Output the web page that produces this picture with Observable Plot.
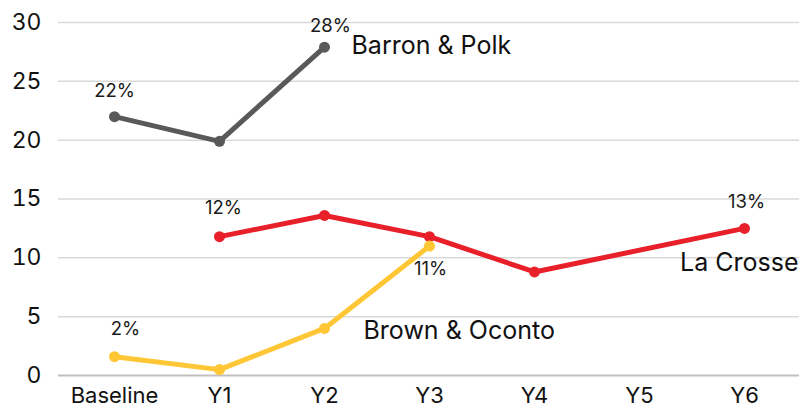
<!DOCTYPE html>
<html>
<head>
<meta charset="utf-8">
<script src="https://cdn.jsdelivr.net/npm/d3@7"></script>
<script src="https://cdn.jsdelivr.net/npm/@observablehq/plot@0.6"></script>
<style>
  html, body { margin: 0; padding: 0; background: #fff; }
  #chart { width: 804px; height: 409px; }
  svg { font-family: Inter, "Open Sans", sans-serif; }
</style>
</head>
<body>
<div id="chart"></div>
<script>
const categories = ["Baseline", "Y1", "Y2", "Y3", "Y4", "Y5", "Y6"];
const yTicks = [0, 5, 10, 15, 20, 25, 30];

const barronValues = [22.0, 19.9, 27.9, null, null, null, null];
const laCrosseValues = [null, 11.8, 13.6, 11.8, 8.8, null, 12.5];
const brownValues = [1.6, 0.5, 4.0, 11.0, null, null, null];

const barronLabels = ["22%", null, "28%", null, null, null, null];
const laCrosseLabels = [null, "12%", null, null, null, null, "13%"];
const brownLabels = ["2%", null, null, "11%", null, null, null];

const seriesNames = ["Barron & Polk", "La Crosse", "Brown & Oconto"];
const colors = ["#595959", "#E8202A", "#FFC735"];

function rows(name, values, labels) {
  return categories.map((c, i) => ({series: name, cat: c, value: values[i], label: labels[i]}))
    .filter(d => d.value != null);
}
const barron = rows(seriesNames[0], barronValues, barronLabels);
const laCrosse = rows(seriesNames[1], laCrosseValues, laCrosseLabels);
const brown = rows(seriesNames[2], brownValues, brownLabels);
const all = [...barron, ...laCrosse, ...brown];

const labelStyle = {fontSize: 18.5, fill: "#1a1a1a"};
const seriesStyle = {fontSize: 25, fill: "#111"};
const pick = (arr, cat) => arr.filter(d => d.cat === cat);

const chart = Plot.plot({
  width: 804,
  height: 409,
  marginTop: 22,
  marginBottom: 34,
  marginLeft: 58,
  marginRight: 5,
  style: {fontFamily: "Inter, 'Open Sans', sans-serif", background: "#fff"},
  x: {type: "point", domain: categories, padding: 0.5, label: null},
  y: {domain: [0, 30], ticks: yTicks, label: null},
  color: {domain: seriesNames, range: colors},
  marks: [
    Plot.ruleY(yTicks.filter(t => t > 0), {stroke: "#d9d9d9", strokeWidth: 1.5}),
    Plot.ruleY([0], {stroke: "#bfbfbf", strokeWidth: 2}),
    Plot.axisY({ticks: yTicks, tickSize: 0, tickPadding: 17, fontSize: 23, fill: "#111", label: null}),
    Plot.axisX({tickSize: 0, tickPadding: 12, fontSize: 22, fill: "#111", label: null}),
    Plot.line(all, {x: "cat", y: "value", z: "series", stroke: "series", strokeWidth: 5, strokeLinejoin: "round", strokeLinecap: "round"}),
    Plot.dot(all, {x: "cat", y: "value", fill: "series", r: 5.5}),
    // data labels
    Plot.text(pick(barron, "Baseline"), {x: "cat", y: "value", text: "label", dy: -26, ...labelStyle}),
    Plot.text(pick(barron, "Y2"), {x: "cat", y: "value", text: "label", dx: 6, dy: -21, ...labelStyle}),
    Plot.text(pick(laCrosse, "Y1"), {x: "cat", y: "value", text: "label", dx: 4, dy: -29, ...labelStyle}),
    Plot.text(pick(laCrosse, "Y6"), {x: "cat", y: "value", text: "label", dx: 2, dy: -26, ...labelStyle}),
    Plot.text(pick(brown, "Y3"), {x: "cat", y: "value", text: "label", dx: 1, dy: 23, ...labelStyle}),
    Plot.text(pick(brown, "Baseline"), {x: "cat", y: "value", text: "label", dx: 11, dy: -28, ...labelStyle}),
    // series labels
    Plot.text(pick(barron, "Y2"), {x: "cat", y: "value", text: "series", dx: 27, dy: -1, textAnchor: "start", ...seriesStyle}),
    Plot.text(pick(laCrosse, "Y6"), {x: "cat", y: "value", text: "series", dx: 54, dy: 35, textAnchor: "end", ...seriesStyle}),
    Plot.text(pick(brown, "Y2"), {x: "cat", y: "value", text: "series", dx: 39, dy: 3, textAnchor: "start", ...seriesStyle})
  ]
});
document.getElementById("chart").appendChild(chart);
</script>
</body>
</html>
